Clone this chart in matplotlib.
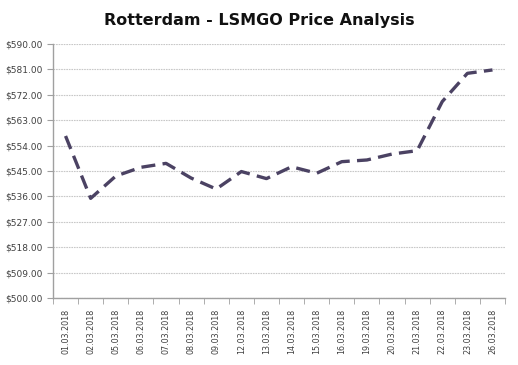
import matplotlib
matplotlib.use("Agg")
import matplotlib.pyplot as plt
from matplotlib.ticker import FuncFormatter

dates = ["01.03.2018", "02.03.2018", "05.03.2018", "06.03.2018", "07.03.2018",
         "08.03.2018", "09.03.2018", "12.03.2018", "13.03.2018", "14.03.2018",
         "15.03.2018", "16.03.2018", "19.03.2018", "20.03.2018", "21.03.2018",
         "22.03.2018", "23.03.2018", "26.03.2018"]
prices = [557.4, 535.3, 543.2, 546.3, 547.7, 542.5, 538.6, 544.8, 542.3,
          546.5, 544.2, 548.3, 548.9, 551.0, 552.2, 569.6, 579.6, 580.8]
yticks = [500, 509, 518, 527, 536, 545, 554, 563, 572, 581, 590]

fig = plt.figure(figsize=(5.18, 3.65), dpi=100)
ax = fig.add_axes([0.1023, 0.1836, 0.8727, 0.6959])

x = list(range(len(dates)))
ax.plot(x, prices, color="#4b4263", linewidth=2.4, linestyle=(0, (4.2, 2.2)),
        solid_capstyle="butt", dash_capstyle="butt")

ax.set_xlim(-0.5, len(dates) - 0.5)
ax.set_ylim(500, 590)
ax.set_yticks(yticks)
ax.yaxis.set_major_formatter(FuncFormatter(lambda v, p: f"${v:.2f}"))
ax.set_xticks(x)
ax.set_xticklabels(dates, rotation=90, fontsize=5.8, color="#404040")
ax.set_xticks([i - 0.5 for i in range(len(dates) + 1)], minor=True)
ax.tick_params(axis="x", which="major", length=0, pad=8)
ax.tick_params(axis="x", which="minor", length=4, color="#a0a0a0", direction="out")
ax.tick_params(axis="y", labelsize=6.5, labelcolor="#404040", length=4,
               color="#a0a0a0", direction="out")

ax.grid(axis="y", color="#c8c8c8", linewidth=0.8, linestyle=(0, (1.5, 0.8)))
ax.set_axisbelow(True)
for s in ["top", "right"]:
    ax.spines[s].set_visible(False)
for s in ["left", "bottom"]:
    ax.spines[s].set_color("#a0a0a0")
    ax.spines[s].set_linewidth(1.0)

fig.text(0.5, 0.945, "Rotterdam - LSMGO Price Analysis", ha="center", va="center",
         fontsize=11.5, fontweight="bold", color="#111111")

fig.savefig("out.png", dpi=100)
